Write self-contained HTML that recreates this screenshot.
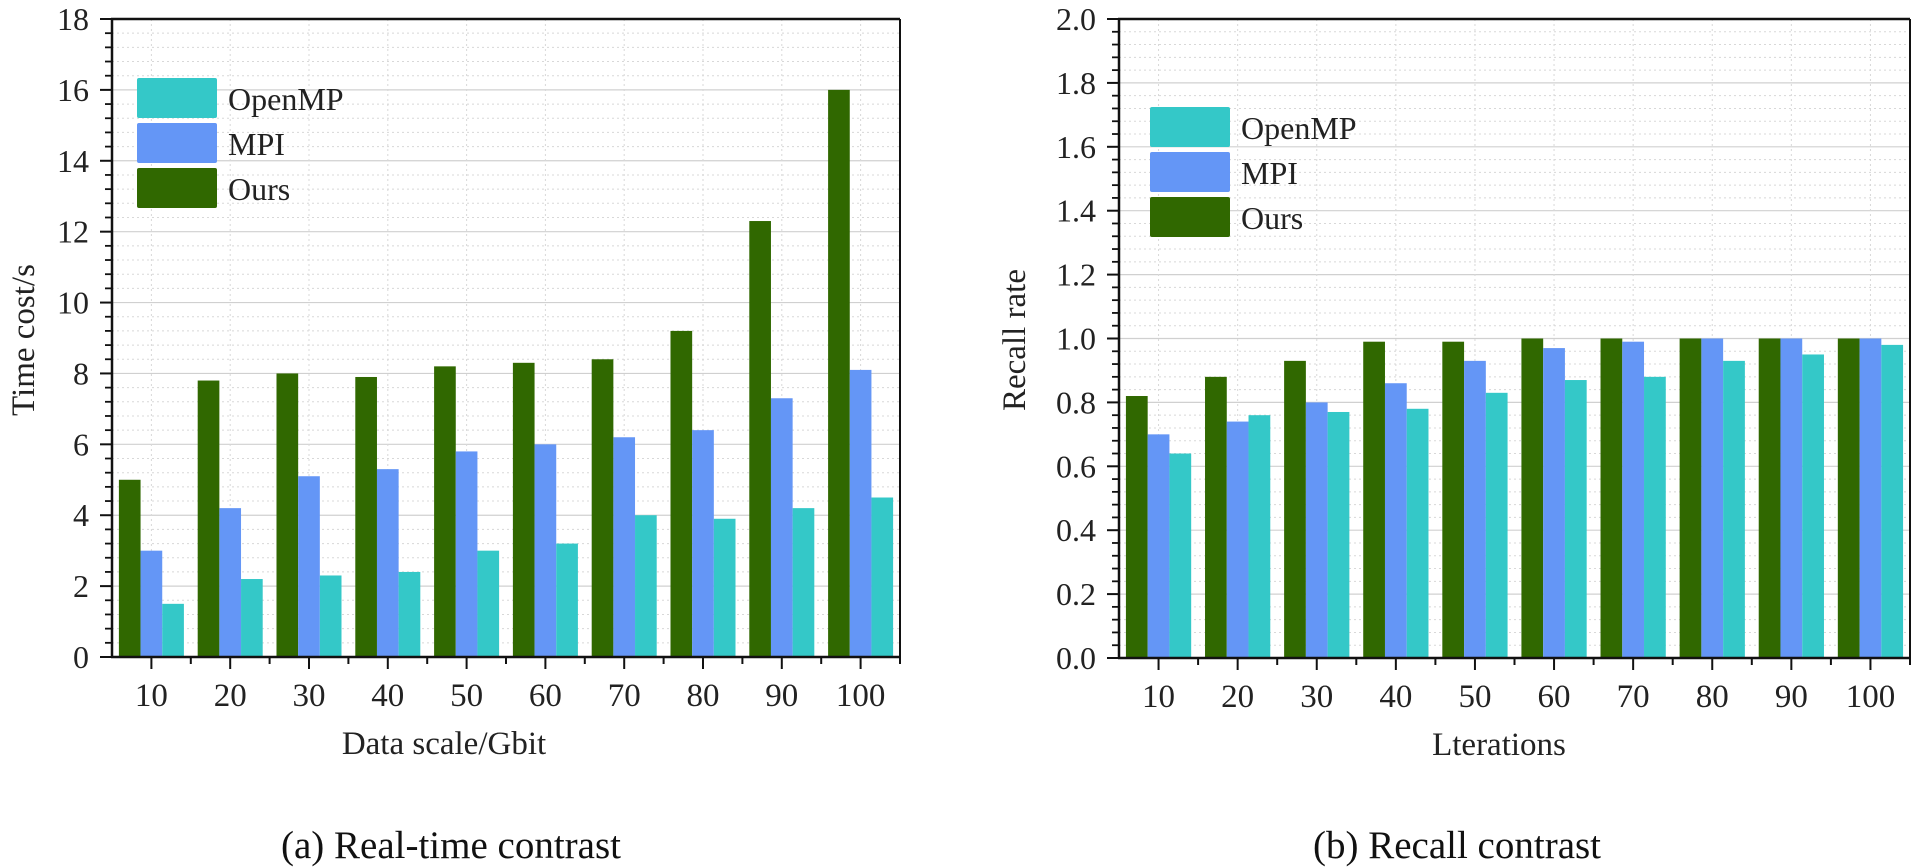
<!DOCTYPE html>
<html><head><meta charset="utf-8"><style>
html,body{margin:0;padding:0;background:#fff;}
svg{display:block;font-family:"Liberation Serif",serif;}
</style></head><body>
<svg id="s" width="1915" height="867" xmlns="http://www.w3.org/2000/svg"></svg>
<script>
const categories=["10","20","30","40","50","60","70","80","90","100"];
const leftOurs=[5,7.8,8,7.9,8.2,8.3,8.4,9.2,12.3,16];
const leftMPI=[3,4.2,5.1,5.3,5.8,6,6.2,6.4,7.3,8.1];
const leftOpenMP=[1.5,2.2,2.3,2.4,3,3.2,4,3.9,4.2,4.5];
const leftTicks=["0","2","4","6","8","10","12","14","16","18"];
const rightOurs=[0.82,0.88,0.93,0.99,0.99,1,1,1,1,1];
const rightMPI=[0.70,0.74,0.80,0.86,0.93,0.97,0.99,1,1,1];
const rightOpenMP=[0.64,0.76,0.77,0.78,0.83,0.87,0.88,0.93,0.95,0.98];
const rightTicks=["0.0","0.2","0.4","0.6","0.8","1.0","1.2","1.4","1.6","1.8","2.0"];
const seriesNames=["OpenMP","MPI","Ours"];
const C={Ours:"#306800",MPI:"#6496f6",OpenMP:"#34c8c8"};
const NS="http://www.w3.org/2000/svg";
const svg=document.getElementById('s');
function mk(tag,attrs,parent){const e=document.createElementNS(NS,tag);for(const k in attrs)e.setAttribute(k,attrs[k]);(parent||svg).appendChild(e);return e;}
function txt(s,attrs,parent){const e=mk('text',attrs,parent);e.textContent=s;return e;}

function chart(o){
  const g=mk('g',{});
  
  
  const x0=o.x0,x1=o.x1,y0=o.y0,y1=o.y1,ymax=o.ymax;
  const n=categories.length,band=(x1-x0)/n;
  const ys=v=>y1-(v/ymax)*(y1-y0);
  const xc=i=>x0+band*(i+0.5);
  const nMaj=o.ticks.length-1,step=ymax/nMaj;
  for(let i=0;i<nMaj;i++){
    for(let m=1;m<5;m++){const y=ys(step*i+step*m/5);mk('line',{x1:x0,x2:x1,y1:y,y2:y,stroke:'#d8d8d8','stroke-width':1,'stroke-dasharray':'2,3'},g);}
    if(i>0){const y=ys(step*i);mk('line',{x1:x0,x2:x1,y1:y,y2:y,stroke:'#d0d0d0','stroke-width':1.2},g);}
  }
  for(let i=0;i<n;i++){mk('line',{x1:xc(i),x2:xc(i),y1:y0,y2:y1,stroke:'#d8d8d8','stroke-width':1,'stroke-dasharray':'2,3'},g);}
  const bw=band*0.275;
  const order=[["Ours",o.ours],["MPI",o.mpi],["OpenMP",o.omp]];
  order.forEach((s,k)=>{
    s[1].forEach((v,i)=>{
      const r=mk('rect',{x:xc(i)-1.5*bw+k*bw,y:ys(v),width:bw,height:y1-ys(v),fill:C[s[0]]},g);
      
      
    });
  });
  mk('line',{x1:x0,x2:x0,y1:y0,y2:y1+1,stroke:'#111','stroke-width':2.5},g);
  mk('line',{x1:x0-1,x2:x1,y1:y1,y2:y1,stroke:'#111','stroke-width':2.5},g);
  mk('line',{x1:x0-1,x2:x1,y1:y0,y2:y0,stroke:'#111','stroke-width':2.5},g);
  if(o.rightBorder)mk('line',{x1:x1,x2:x1,y1:y0,y2:y1,stroke:'#111','stroke-width':2},g);
  for(let i=0;i<=nMaj;i++){
    const y=ys(step*i);
    mk('line',{x1:x0-12,x2:x0,y1:y,y2:y,stroke:'#111','stroke-width':2},g);
    const t=txt(o.ticks[i],{x:x0-23,y:y+11,'font-size':32,'text-anchor':'end',fill:'#222'},g);
    
    
    if(i<nMaj)for(let m=1;m<5;m++){const yy=ys(step*i+step*m/5);mk('line',{x1:x0-7,x2:x0,y1:yy,y2:yy,stroke:'#111','stroke-width':1.8},g);}
  }
  for(let i=0;i<n;i++){
    mk('line',{x1:xc(i),x2:xc(i),y1:y1,y2:y1+12,stroke:'#111','stroke-width':2},g);
    mk('line',{x1:x0+band*(i+1),x2:x0+band*(i+1),y1:y1,y2:y1+7,stroke:'#111','stroke-width':2},g);
    const t=txt(categories[i],{x:xc(i),y:y1+49,'font-size':33,'text-anchor':'middle',fill:'#222'},g);
    
    
  }
  const xt=txt(o.xtitle,{x:o.xtx,y:y1+97,'font-size':33,'text-anchor':'middle',fill:'#222'},g);
  
  
  const yt=txt(o.ytitle,{x:0,y:0,'font-size':33,'text-anchor':'middle',fill:'#222',transform:`translate(${o.ytx},340) rotate(-90)`},g);
  
  
  const lg=mk('g',{},g);
  
  
  seriesNames.forEach((s,k)=>{
    const y=o.ly+k*45;
    const r=mk('rect',{x:o.lx,y:y,width:80,height:40,fill:C[s],rx:2},lg);
    
    
    const t=txt(s,{x:o.lx+91,y:y+32,'font-size':32,fill:'#222'},lg);
    
    
  });
  const cap=txt(o.caption,{x:o.capx,y:858,'font-size':39,'text-anchor':'middle',fill:'#111'},g);
  
  
}
chart({name:'real-time-chart',x0:112,x1:900,y0:19,y1:657,ymax:18,ticks:leftTicks,ours:leftOurs,mpi:leftMPI,omp:leftOpenMP,
  xtitle:'Data scale/Gbit',xtx:444,ytitle:'Time cost/s',ytx:34,lx:137,ly:78,caption:'(a) Real-time contrast',capx:451,rightBorder:true});
chart({name:'recall-chart',x0:1119,x1:1910,y0:19,y1:658,ymax:2.0,ticks:rightTicks,ours:rightOurs,mpi:rightMPI,omp:rightOpenMP,
  xtitle:'Lterations',xtx:1499,ytitle:'Recall rate',ytx:1025,lx:1150,ly:107,caption:'(b) Recall contrast',capx:1457,rightBorder:true});
</script>
</body></html>
